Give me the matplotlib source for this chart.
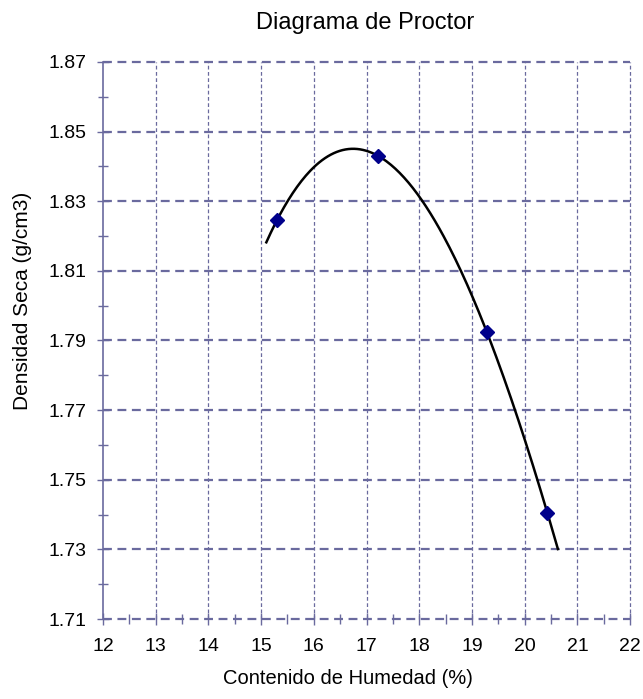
import numpy as np
import matplotlib
matplotlib.use("Agg")
from matplotlib import pyplot as plt
from matplotlib.ticker import MultipleLocator

# ========== CONFIG ==========
plt.rcParams["font.family"] = ["Liberation Sans", "DejaVu Sans"]
GRID = "#6a6a9e"

# ========== DATA ==========
humedad = [15.30, 17.21, 19.28, 20.43]
densidad = [1.8245, 1.8431, 1.7925, 1.7405]
curve_range = [15.1, 20.63]
x_ticks = [12, 13, 14, 15, 16, 17, 18, 19, 20, 21, 22]
y_ticks = [1.71, 1.73, 1.75, 1.77, 1.79, 1.81, 1.83, 1.85, 1.87]

# polynomial trendline (order 3) like the spreadsheet
coef = np.polyfit(humedad, densidad, 3)
xs = np.linspace(curve_range[0], curve_range[1], 200)
ys = np.polyval(coef, xs)

# ========== PLOT ==========
fig = plt.figure(figsize=(6.43, 6.99), dpi=100)
ax = fig.add_axes([0.160, 0.1144, 0.820, 0.797])

ax.plot(xs, ys, color="black", lw=1.8, zorder=3)
ax.plot(humedad, densidad, "D", color="#00008b", ms=7, zorder=4)

ax.set_xlim(x_ticks[0], x_ticks[-1])
ax.set_ylim(y_ticks[0], y_ticks[-1])
ax.set_xticks(x_ticks)
ax.set_yticks(y_ticks)
ax.set_yticklabels([f"{v:.2f}" for v in y_ticks])
ax.xaxis.set_minor_locator(MultipleLocator(0.5))
ax.yaxis.set_minor_locator(MultipleLocator(0.01))

for v in y_ticks:
    ax.axhline(v, color=GRID, lw=1.6, ls=(0, (4, 2.5)), zorder=1, clip_on=False)
for v in x_ticks[1:]:
    ax.axvline(v, color=GRID, lw=0.9, ls=(0, (3, 2)), zorder=1, clip_on=False)

for s in ["top", "right", "bottom"]:
    ax.spines[s].set_visible(False)
ax.spines["left"].set_color(GRID)
ax.spines["left"].set_linewidth(1.2)

ax.tick_params(which="both", direction="inout", color=GRID, labelsize=14, width=1)
ax.tick_params(which="major", length=9)
ax.tick_params(which="minor", length=7)
ax.tick_params(axis="x", pad=9)
ax.tick_params(axis="y", pad=7.5)

fig.text(365 / 643, 1 - 23 / 699, "Diagrama de Proctor", fontsize=17,
         ha="center", va="center")
fig.text(348 / 643, 1 - 679 / 699, "Contenido de Humedad (%)", fontsize=14.5,
         ha="center", va="center")
fig.text(23 / 643, 1 - 301 / 699, "Densidad Seca (g/cm3)", fontsize=15,
         ha="center", va="center", rotation=90)

fig.savefig("out.png", dpi=100)
